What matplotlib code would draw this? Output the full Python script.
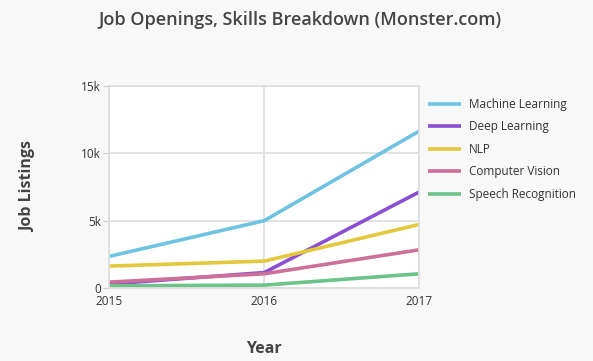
import matplotlib.pyplot as plt
from matplotlib.ticker import FuncFormatter

plt.rcParams['font.family'] = ['Open Sans', 'DejaVu Sans']

years = [2015, 2016, 2017]
machine_learning = [2350, 5000, 11650]
deep_learning = [300, 1150, 7130]
nlp = [1630, 2000, 4720]
computer_vision = [440, 1060, 2840]
speech_recognition = [170, 220, 1060]

series = [
    ("Machine Learning", machine_learning, "#6fc3e1"),
    ("Deep Learning", deep_learning, "#8b4fd2"),
    ("NLP", nlp, "#e3c73c"),
    ("Computer Vision", computer_vision, "#cc6f99"),
    ("Speech Recognition", speech_recognition, "#6cc488"),
]

fig = plt.figure(figsize=(5.93, 3.61), dpi=100, facecolor="#f8f8f8")
ax = fig.add_axes([0.184, 0.202, 0.523, 0.56])
ax.set_facecolor("white")

for name, vals, color in series:
    ax.plot(years, vals, color=color, lw=2.6, label=name, solid_capstyle="butt")

ax.set_xlim(2015, 2017)
ax.set_ylim(0, 15000)
ax.set_xticks(years)
ax.set_yticks([0, 5000, 10000, 15000])
ax.yaxis.set_major_formatter(FuncFormatter(lambda v, p: "0" if v == 0 else f"{int(v/1000)}k"))
ax.grid(True, color="#dedede", lw=1.2)
ax.set_axisbelow(True)
for s in ax.spines.values():
    s.set_color("#dedede")
    s.set_linewidth(1.2)
ax.tick_params(axis="y", length=4, color="#cccccc", labelsize=8.5, labelcolor="#333333", pad=2)
ax.tick_params(axis="x", length=0, labelsize=8.5, labelcolor="#333333", pad=5)

ax.set_xlabel("Year", fontsize=11.5, fontweight="bold", color="#444444", labelpad=24)
ax.set_ylabel("Job Listings", fontsize=11.5, fontweight="bold", color="#444444", labelpad=32)
fig.text(0.505, 0.945, "Job Openings, Skills Breakdown (Monster.com)", ha="center", va="center",
         fontsize=13, fontweight="semibold", color="#444444")

fig.legend(loc="upper left", bbox_to_anchor=(0.703, 0.758), frameon=False, fontsize=8.5,
           handlelength=2.8, handletextpad=0.7, labelspacing=0.8, labelcolor="#333333")

fig.savefig("out.png", dpi=100, facecolor=fig.get_facecolor())
